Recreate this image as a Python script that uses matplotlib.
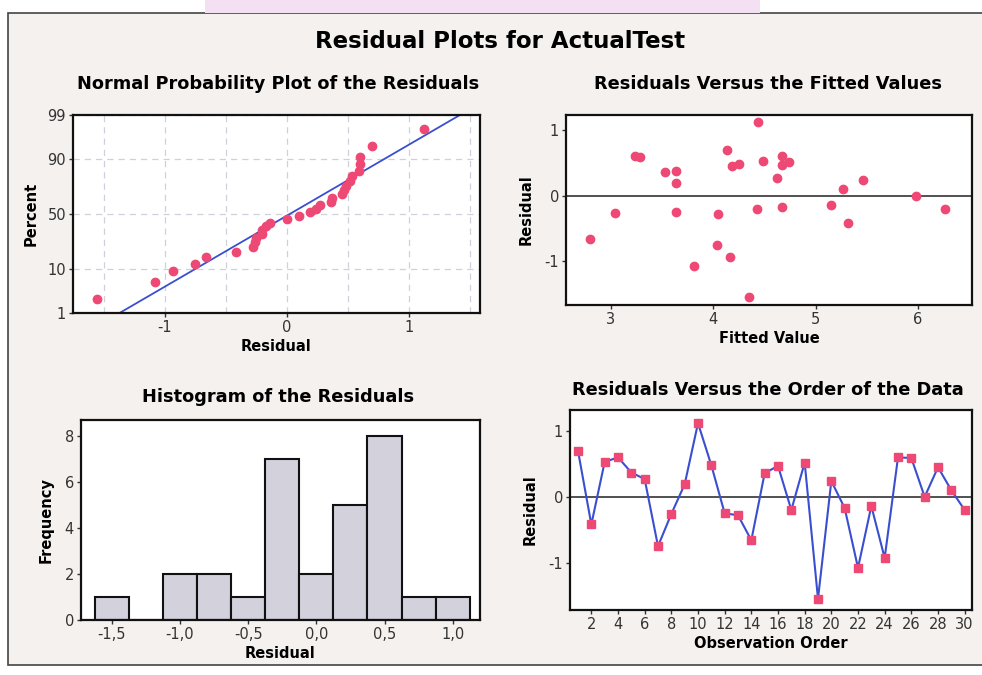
import numpy as np
import matplotlib
matplotlib.use("Agg")
import matplotlib.pyplot as plt
from matplotlib.patches import Rectangle
from statistics import NormalDist

# residuals in observation order
residuals = [0.70, -0.42, 0.53, 0.60, 0.37, 0.27, -0.75, -0.26, 0.19, 1.12,
             0.48, -0.25, -0.28, -0.66, 0.36, 0.47, -0.20, 0.52, -1.55, 0.24,
             -0.17, -1.08, -0.14, -0.93, 0.60, 0.59, 0.00, 0.45, 0.10, -0.20]
# fitted values for the same observations
fitted = [4.13, 5.32, 4.49, 3.23, 3.64, 4.62, 4.04, 3.04, 3.64, 4.44,
          4.25, 3.64, 4.05, 2.79, 3.53, 4.67, 4.43, 4.74, 4.35, 5.46,
          4.67, 3.81, 5.15, 4.16, 4.67, 3.28, 5.98, 4.18, 5.27, 6.27]
observation = list(range(1, 31))

hist_edges = [-1.625, -1.375, -1.125, -0.875, -0.625, -0.375, -0.125,
              0.125, 0.375, 0.625, 0.875, 1.125]
hist_ticks = [-1.5, -1.0, -0.5, 0.0, 0.5, 1.0]
hist_labels = ["-1,5", "-1,0", "-0,5", "0,0", "0,5", "1,0"]
percent_ticks = [1, 10, 50, 90, 99]

pink = "#ee4874"
blue = "#3a4fd0"
paper = "#f4f1ef"
W, H = 982, 675

plt.rcParams["font.family"] = "DejaVu Sans"
plt.rcParams["axes.unicode_minus"] = False


def box(left, top, right, bottom):
    return [left / W, 1 - bottom / H, (right - left) / W, (bottom - top) / H]


def style(ax):
    for s in ax.spines.values():
        s.set_linewidth(1.6)
        s.set_color("#111111")
    ax.tick_params(direction="out", length=3, width=1, labelsize=10.5,
                   colors="#333333", pad=2)


fig = plt.figure(figsize=(W / 100, H / 100), dpi=100, facecolor="white")

# scanned page look: paper frame and pink smudge on top
fig.add_artist(Rectangle((8 / W, 1 - 665 / H), 990 / W, 652 / H,
                         transform=fig.transFigure, facecolor=paper,
                         edgecolor="#444444", linewidth=1.2, zorder=0))
fig.add_artist(Rectangle((205 / W, 1 - 13 / H), 555 / W, 13 / H,
                         transform=fig.transFigure, facecolor="#f3e0f3",
                         edgecolor="none", zorder=0))

fig.text(500 / W, 1 - 42 / H, "Residual Plots for ActualTest",
         ha="center", va="center", fontsize=16.5, fontweight="bold")

lab = dict(fontsize=10.5, fontweight="bold")
sub = dict(ha="center", va="center", fontsize=12.8, fontweight="bold")

# normal probability plot
ax1 = fig.add_axes(box(73, 115, 480, 313))
nd = NormalDist()
n = len(residuals)
srt = np.sort(residuals)
zpos = [nd.inv_cdf((i + 1 - 0.3) / (n + 0.4)) for i in range(n)]
mu = np.mean(residuals)
sd = np.std(residuals, ddof=1)
zline = np.array([-3.0, 3.0])
ax1.plot(mu + sd * zline, zline, color=blue, lw=1.3, zorder=2)
ax1.plot(srt, zpos, "o", color=pink, ms=6, zorder=3)
zt = [nd.inv_cdf(p / 100) for p in percent_ticks]
ax1.set_yticks(zt)
ax1.set_yticklabels([str(p) for p in percent_ticks])
ax1.set_ylim(zt[0], zt[-1])
ax1.set_xlim(-1.75, 1.58)
ax1.set_xticks([-1, 0, 1])
ax1.set_xticks([-1.5, -0.5, 0.5, 1.5], minor=True)
ax1.tick_params(which="minor", length=0)
ax1.grid(True, which="both", ls=(0, (5, 4)), color="#cfd0da", lw=0.9)
ax1.set_axisbelow(True)
ax1.set_xlabel("Residual", labelpad=3, **lab)
ax1.set_ylabel("Percent", labelpad=6, **lab)
style(ax1)
fig.text(278 / W, 1 - 84 / H, "Normal Probability Plot of the Residuals", **sub)

# residuals versus fitted values
ax2 = fig.add_axes(box(566, 115, 972, 305))
ax2.axhline(0, color="#333333", lw=1.2, zorder=1)
ax2.plot(fitted, residuals, "o", color=pink, ms=6, zorder=3)
ax2.set_xlim(2.56, 6.53)
ax2.set_ylim(-1.67, 1.23)
ax2.set_xticks([3, 4, 5, 6])
ax2.set_yticks([-1, 0, 1])
ax2.set_xlabel("Fitted Value", labelpad=3, **lab)
ax2.set_ylabel("Residual", labelpad=8, **lab)
style(ax2)
fig.text(768 / W, 1 - 84 / H, "Residuals Versus the Fitted Values", **sub)

# histogram
ax3 = fig.add_axes(box(81, 420, 480, 620))
ax3.hist(residuals, bins=hist_edges, color="#d3d1dc", edgecolor="#111111",
         linewidth=1.5)
ax3.set_xlim(-1.725, 1.2)
ax3.set_ylim(0, 8.7)
ax3.set_yticks([0, 2, 4, 6, 8])
ax3.set_xticks(hist_ticks)
ax3.set_xticklabels(hist_labels)
ax3.set_xlabel("Residual", labelpad=3, **lab)
ax3.set_ylabel("Frequency", labelpad=8, **lab)
style(ax3)
fig.text(278 / W, 1 - 397 / H, "Histogram of the Residuals", **sub)

# residuals versus order
ax4 = fig.add_axes(box(570, 410, 972, 610))
ax4.axhline(0, color="#333333", lw=1.2, zorder=1)
ax4.plot(observation, residuals, color=blue, lw=1.5, marker="s", ms=6,
         mfc=pink, mec=pink, zorder=3)
ax4.set_xlim(0.4, 30.55)
ax4.set_ylim(-1.72, 1.32)
ax4.set_xticks(np.arange(2, 31, 2))
ax4.set_yticks([-1, 0, 1])
ax4.set_xlabel("Observation Order", labelpad=3, **lab)
ax4.set_ylabel("Residual", labelpad=8, **lab)
style(ax4)
fig.text(768 / W, 1 - 390 / H, "Residuals Versus the Order of the Data", **sub)

fig.savefig("out.png", dpi=100, facecolor=fig.get_facecolor())
